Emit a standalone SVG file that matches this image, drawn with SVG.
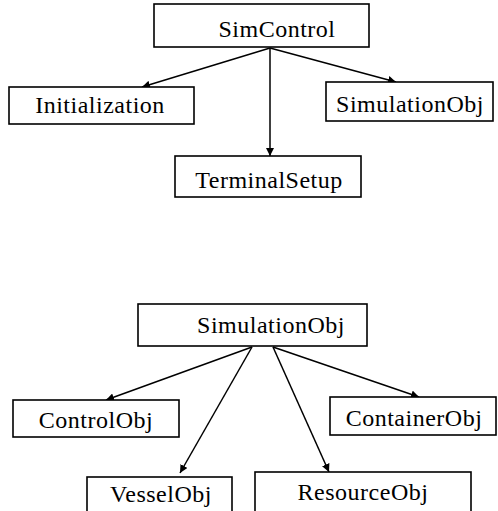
<svg xmlns="http://www.w3.org/2000/svg" width="498" height="511" viewBox="0 0 498 511">
<style>
.box{fill:#fff;stroke:#000;stroke-width:1.6}
.lbl{font-family:"Liberation Serif","Times New Roman",serif;font-size:24px;fill:#000;text-anchor:middle;letter-spacing:0.5px}
.edge{stroke:#000;stroke-width:1.5;fill:none;marker-end:url(#ah)}
</style>
<defs>
<marker id="ah" viewBox="0 0 10 10" refX="10" refY="5" markerWidth="8" markerHeight="8" markerUnits="userSpaceOnUse" orient="auto">
<path d="M0,0 L10,5 L0,10 z" fill="#000"/>
</marker>
</defs>
<rect width="498" height="511" fill="#fff"/>
<g id="connectors">
<line class="edge" x1="270" y1="48" x2="142" y2="87"/>
<line class="edge" x1="270" y1="48" x2="396" y2="82"/>
<line class="edge" x1="270" y1="48" x2="270" y2="156"/>
<line class="edge" x1="252" y1="347" x2="106" y2="400"/>
<line class="edge" x1="252" y1="347" x2="180" y2="473"/>
<line class="edge" x1="273" y1="347" x2="329" y2="472"/>
<line class="edge" x1="273" y1="347" x2="419" y2="397"/>
</g>
<g id="SimControl"><rect class="box" x="154" y="4" width="215" height="43"/><text class="lbl" x="277" y="37">SimControl</text></g>
<g id="Initialization"><rect class="box" x="9" y="87" width="185" height="37"/><text class="lbl" x="100" y="113">Initialization</text></g>
<g id="SimulationObjTop"><rect class="box" x="326" y="82" width="167" height="39"/><text class="lbl" x="410" y="112">SimulationObj</text></g>
<g id="TerminalSetup"><rect class="box" x="175" y="156" width="186" height="41"/><text class="lbl" x="269" y="188">TerminalSetup</text></g>
<g id="SimulationObj"><rect class="box" x="138" y="304" width="229" height="42"/><text class="lbl" x="271" y="333">SimulationObj</text></g>
<g id="ControlObj"><rect class="box" x="13" y="400" width="166" height="37"/><text class="lbl" x="96" y="428">ControlObj</text></g>
<g id="ContainerObj"><rect class="box" x="330" y="397" width="166" height="38"/><text class="lbl" x="414" y="426">ContainerObj</text></g>
<g id="VesselObj"><rect class="box" x="87" y="477" width="145" height="40"/><text class="lbl" x="161" y="502">VesselObj</text></g>
<g id="ResourceObj"><rect class="box" x="255" y="472" width="216" height="45"/><text class="lbl" x="363" y="500">ResourceObj</text></g>
</svg>
